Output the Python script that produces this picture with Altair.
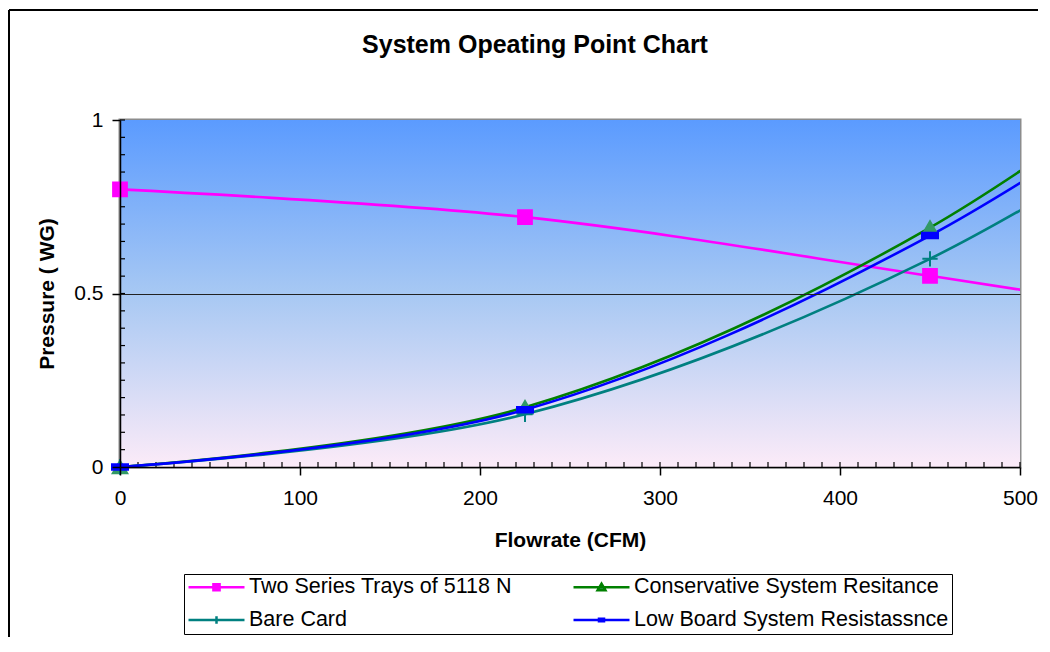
import altair as alt
import pandas as pd

# ---- data ----
flow = [0, 225, 450, 675]
fan_curve = [0.80, 0.72, 0.551, 0.369]
conservative = [0.0, 0.172, 0.69, 1.507]
bare_card = [0.0, 0.152, 0.60, 1.299]
low_board = [0.0, 0.165, 0.667, 1.421]

series_names = [
    "Two Series Trays of 5118 N",
    "Conservative System Resitance",
    "Bare Card",
    "Low Board System Resistassnce",
]
chart_title = "System Opeating Point Chart"
x_ticks = [0, 100, 200, 300, 400, 500]
y_ticks = [0, 0.5, 1]
x_minor = list(range(0, 501, 10))
y_minor = [round(i * 0.05, 2) for i in range(21)]

# ---- styles ----
FONT = "Liberation Sans"
W, H = 900, 347
PAD = {"left": 112, "top": 112, "right": 18, "bottom": 170}
line_colors = ["#ff00ff", "#008000", "#008080", "#0000ff"]
marker_fill = ["#ff00ff", "#339966", "#008080", "#0000ff"]
marker_stroke = ["#ff00ff", "#339966", "#008080", "#0000ff"]
marker_shapes = ["square", "triangle-up", "M-1,0H1M0,-1V1", "M-1,-0.35H1V0.35H-1Z"]
marker_sizes = [190, 256, 196, 121]
legend_shapes = [
    "M-1,0H1M-0.11,-0.11H0.11V0.11H-0.11Z",
    "M-1,0H1M0,-0.13L0.14,0.11H-0.14Z",
    "M-1,0H1M0,-0.13V0.13",
    "M-1,0H1M-0.09,-0.045H0.09V0.045H-0.09Z",
]

rows = []
for name, vals in zip(series_names, [fan_curve, conservative, bare_card, low_board]):
    for f, p in zip(flow, vals):
        rows.append({"series": name, "flow": f, "pressure": p})
df = pd.DataFrame(rows)

xs = alt.Scale(domain=[0, 500], nice=False, zero=False)
ys = alt.Scale(domain=[0, 1], nice=False, zero=False)

x_enc = alt.X(
    "flow:Q", scale=xs,
    axis=alt.Axis(
        values=x_ticks, title="Flowrate (CFM)", grid=False, tickSize=8,
        tickColor="black", tickWidth=1.5, domainColor="black", domainWidth=1.5,
        labelFontSize=21, labelFont=FONT, labelColor="black", labelPadding=12,
        labelFlush=False,
        titleFontSize=21, titleFont=FONT, titleFontWeight="bold", titleColor="black",
        titlePadding=21, zindex=1,
    ),
)
y_enc = alt.Y(
    "pressure:Q", scale=ys,
    axis=alt.Axis(
        values=y_ticks, format=".1~f", title="Pressure ( WG)", grid=True,
        gridColor={"condition": {"test": "datum.value == 0.5", "value": "#222222"}, "value": "transparent"},
        gridWidth=1, gridOpacity=1, tickSize=8, tickColor="black", tickWidth=1.5,
        domainColor="black", domainWidth=1.5, labelFontSize=21, labelFont=FONT,
        labelColor="black", labelPadding=9, labelFlush=False,
        titleFontSize=21, titleFont=FONT,
        titleFontWeight="bold", titleColor="black", titlePadding=16, zindex=1,
    ),
)

one = pd.DataFrame({"k": [0]})

gradient = alt.LinearGradient(
    gradient="linear",
    stops=[
        alt.GradientStop(color="#5b9bff", offset=0),
        alt.GradientStop(color="#a7c8f3", offset=0.5),
        alt.GradientStop(color="#fcebf8", offset=1),
    ],
    x1=0, x2=0, y1=0, y2=1,
)
bg = alt.Chart(one).mark_rect(fill=gradient).encode(
    x=alt.value(0), x2=alt.value("width"), y=alt.value(0), y2=alt.value("height")
)

# outer chart frame: only its left and top edges fall inside the page
frame_top = alt.Chart(one).mark_rule(color="black", strokeWidth=2).encode(
    x=alt.value(-111), x2=alt.value(W + PAD["right"]), y=alt.value(-110)
)
frame_left = alt.Chart(one).mark_rule(color="black", strokeWidth=2).encode(
    x=alt.value(-111), y=alt.value(-110), y2=alt.value(H + PAD["bottom"])
)

title_text = alt.Chart(one).mark_text(
    text=chart_title, font=FONT, fontSize=25, fontWeight="bold", color="black",
    align="center", baseline="middle",
).encode(x=alt.value(415), y=alt.value(-75))

minor_x = alt.Chart(pd.DataFrame({"v": x_minor})).mark_rule(color="black", strokeWidth=1.2).encode(
    x=alt.X("v:Q", scale=xs), y=alt.value(H - 5), y2=alt.value(H)
)
minor_y = alt.Chart(pd.DataFrame({"v": y_minor})).mark_rule(color="black", strokeWidth=1.2).encode(
    y=alt.Y("v:Q", scale=ys), x=alt.value(0), x2=alt.value(5)
)

lines = alt.Chart(df).mark_line(interpolate="cardinal", tension=0, clip=True, strokeWidth=2.6).encode(
    x=x_enc, y=y_enc,
    color=alt.Color("series:N", scale=alt.Scale(domain=series_names, range=line_colors), legend=None),
    detail="series:N",
)

points = alt.Chart(df).transform_filter("datum.flow <= 500").mark_point(
    filled=True, strokeWidth=2, opacity=1
).encode(
    x=alt.X("flow:Q", scale=xs), y=alt.Y("pressure:Q", scale=ys),
    fill=alt.Fill("series:N", scale=alt.Scale(domain=series_names, range=marker_fill), legend=None),
    stroke=alt.Stroke("series:N", scale=alt.Scale(domain=series_names, range=marker_stroke), legend=None),
    shape=alt.Shape("series:N", scale=alt.Scale(domain=series_names, range=marker_shapes), legend=None),
    size=alt.Size("series:N", scale=alt.Scale(domain=series_names, range=marker_sizes), legend=None),
)

legend_kw = dict(
    title=None, orient="none", legendX=64, legendY=454, columns=2, direction="horizontal",
    strokeColor="black", fillColor="white", padding=3, labelFontSize=21.5, labelFont=FONT,
    labelColor="black", labelLimit=0, labelOffset=3, symbolSize=3136, symbolStrokeWidth=2.5,
    clipHeight=20, rowPadding=11, columnPadding=60, symbolOpacity=1,
)
legend_layer = alt.Chart(df).transform_filter("datum.flow > 500").mark_point(
    filled=True, clip=True, strokeWidth=2.5, opacity=1
).encode(
    x=alt.X("flow:Q", scale=xs), y=alt.Y("pressure:Q", scale=ys),
    fill=alt.Fill("series:N", scale=alt.Scale(domain=series_names, range=marker_fill), legend=alt.Legend(**legend_kw)),
    stroke=alt.Stroke("series:N", scale=alt.Scale(domain=series_names, range=line_colors), legend=alt.Legend(**legend_kw)),
    shape=alt.Shape("series:N", scale=alt.Scale(domain=series_names, range=legend_shapes), legend=alt.Legend(**legend_kw)),
)

chart = alt.layer(bg, minor_x, minor_y, lines, points, legend_layer, frame_top, frame_left, title_text).resolve_scale(
    fill="independent", stroke="independent", shape="independent", size="independent"
).resolve_legend(
    fill="independent", stroke="independent", shape="independent", size="independent"
).properties(
    width=W, height=H,
    autosize="none",
    padding=PAD,
).configure(background="white").configure_view(stroke="#8c8c8c", strokeWidth=3)

chart.save("out.html", embed_options={"renderer": "svg", "actions": False})
